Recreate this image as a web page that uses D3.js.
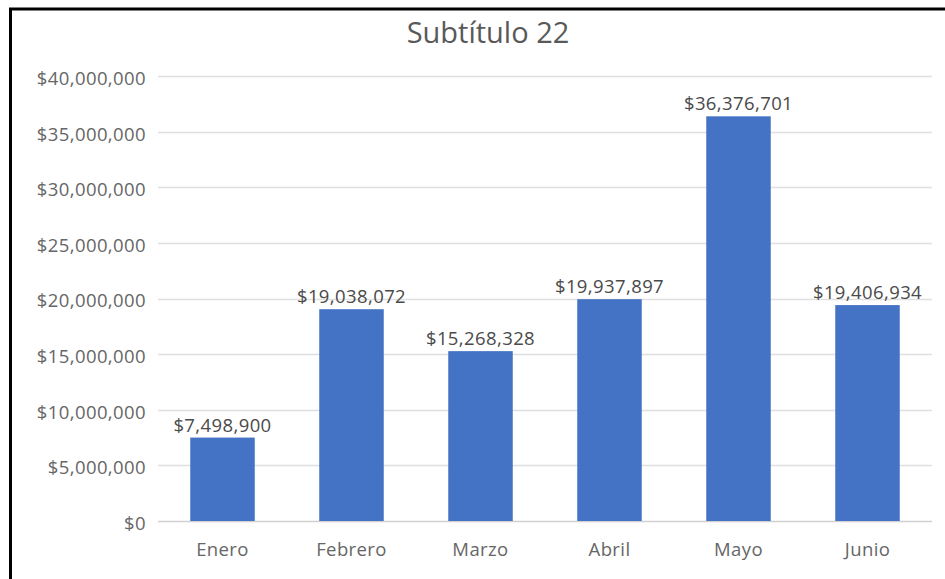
<!DOCTYPE html>
<html><head><meta charset="utf-8">
<script src="https://cdn.jsdelivr.net/npm/d3@7"></script>
<style>body{margin:0;background:#fff;}svg{display:block;}</style>
</head><body><svg id="c" width="945" height="579"></svg>
<script>
const categories = ["Enero","Febrero","Marzo","Abril","Mayo","Junio"];
const values = [7498900, 19038072, 15268328, 19937897, 36376701, 19406934];
const yTicks = [0,5000000,10000000,15000000,20000000,25000000,30000000,35000000,40000000];
const title = "Subtítulo 22";

const svg = d3.select("#c");
const font = "'Open Sans', sans-serif";
const fs = 18.5, ls = 0.4;
// frame
svg.append("rect").attr("x",0).attr("y",0).attr("width",945).attr("height",579).attr("fill","#fff");
svg.append("line").attr("x1",9).attr("x2",945).attr("y1",9).attr("y2",9).attr("stroke","#000").attr("stroke-width",3);
svg.append("line").attr("x1",10.5).attr("x2",10.5).attr("y1",8).attr("y2",579).attr("stroke","#000").attr("stroke-width",3);

const x = d3.scaleBand().domain(categories).range([158,932]).paddingInner(0.5).paddingOuter(0.25);
const y = d3.scaleLinear().domain([0,40000000]).range([521,76]);
const fmt = d3.format("$,");

svg.append("g").selectAll("line").data(yTicks).join("line")
  .attr("x1",158).attr("x2",932)
  .attr("y1",d=>Math.round(y(d))+0.5).attr("y2",d=>Math.round(y(d))+0.5)
  .attr("stroke",d=>d===0?"#d0d0d0":"#e0e0e0").attr("stroke-width",1.3);

svg.append("g").selectAll("text").data(yTicks).join("text")
  .attr("x",146).attr("y",d=>y(d)).attr("dy","0.48em").attr("text-anchor","end")
  .attr("font-family",font).attr("font-size",fs).attr("letter-spacing",ls).attr("fill","#666").text(d=>fmt(d));

svg.append("g").selectAll("rect").data(values).join("rect")
  .attr("x",(d,i)=>x(categories[i])).attr("width",x.bandwidth())
  .attr("y",d=>y(d)).attr("height",d=>y(0)-y(d)).attr("fill","#4472C4");

svg.append("g").selectAll("text").data(values).join("text")
  .attr("x",(d,i)=>x(categories[i])+x.bandwidth()/2).attr("y",d=>y(d)-6)
  .attr("text-anchor","middle").attr("font-family",font).attr("font-size",fs).attr("letter-spacing",ls).attr("fill","#4a4a4a")
  .text(d=>fmt(d));

svg.append("g").selectAll("text").data(categories).join("text")
  .attr("x",d=>x(d)+x.bandwidth()/2).attr("y",556)
  .attr("text-anchor","middle").attr("font-family",font).attr("font-size",fs).attr("letter-spacing",ls).attr("fill","#666").text(d=>d);

svg.append("text").attr("x",488).attr("y",43).attr("text-anchor","middle")
  .attr("font-family",font).attr("font-size",29).attr("fill","#595959").text(title);
</script></body></html>
